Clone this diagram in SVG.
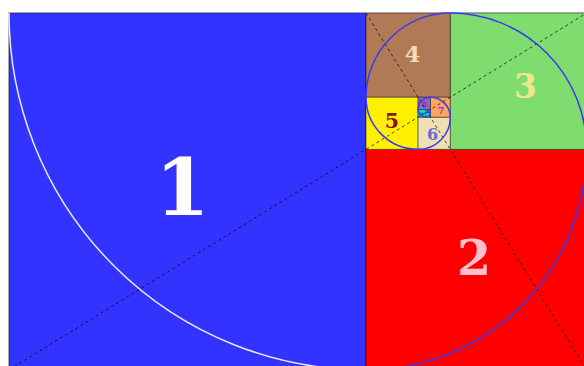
<svg xmlns="http://www.w3.org/2000/svg" width="584" height="366" viewBox="0 0 584 366">
<style>
.sq{stroke:#000;stroke-opacity:0.45;stroke-width:1}
.lbl{font-family:"DejaVu Serif","Liberation Serif",serif;font-weight:bold;text-anchor:middle}
.sp{fill:none;stroke:#3a3af0;stroke-width:1.5}
.dg{fill:none;stroke:#000;stroke-opacity:0.7;stroke-width:1;stroke-dasharray:3,3}
</style>
<rect x="0" y="0" width="584" height="366" fill="#fff"/>
<g id="sq1"><rect class="sq" x="9" y="13" width="357" height="357" fill="#3333ff"/><text class="lbl" x="182.5" y="215" font-size="78" fill="#ffffff">1</text></g>
<g id="sq2"><rect class="sq" x="366" y="149.36" width="220.64" height="220.64" fill="#ff0000"/><text class="lbl" x="474" y="275" font-size="49" fill="#ffc0cb">2</text></g>
<g id="sq3"><rect class="sq" x="450.28" y="13" width="136.36" height="136.36" fill="#7fdc6f"/><text class="lbl" x="525.5" y="98" font-size="33" fill="#f0e68c">3</text></g>
<g id="sq4"><rect class="sq" x="366" y="13" width="84.28" height="84.28" fill="#b07a56"/><text class="lbl" x="412.5" y="61.5" font-size="22.5" fill="#f5deb3">4</text></g>
<g id="sq5"><rect class="sq" x="366" y="97.28" width="52.08" height="52.08" fill="#fff000"/><text class="lbl" x="392" y="128" font-size="20.5" fill="#8b1010">5</text></g>
<g id="sq6"><rect class="sq" x="418.08" y="117.16" width="32.2" height="32.2" fill="#eee0b2"/><text class="lbl" x="432.5" y="140" font-size="16" fill="#6a6ad0">6</text></g>
<g id="sq7"><rect class="sq" x="430.4" y="97.28" width="19.88" height="19.88" fill="#ffa55a"/><text class="lbl" x="441" y="114" font-size="10" fill="#9932cc">7</text></g>
<g id="sq8"><rect class="sq" x="418.08" y="97.28" width="12.32" height="12.32" fill="#9a60c4"/><text class="lbl" x="424.2" y="107" font-size="8" fill="#6a4a8a">8</text></g>
<g id="sq9"><rect class="sq" x="418.08" y="109.6" width="7.56" height="7.56" fill="#00e0e8"/><text class="lbl" x="421.9" y="115.5" font-size="5" fill="#3050a0">9</text></g>
<g id="sq10"><rect class="sq" x="425.64" y="112.4" width="4.76" height="4.76" fill="#20c8d8"/></g>
<g id="sq11"><rect class="sq" x="427.6" y="109.6" width="2.8" height="2.8" fill="#40b0e0"/></g>
<rect x="8.5" y="12.5" width="580" height="360" fill="none" stroke="#aaa" stroke-width="1"/>
<g id="connectors">
<line class="dg" x1="9" y1="370" x2="586.64" y2="13"/>
<line class="dg" x1="366" y1="13" x2="586.64" y2="370"/>
<path d="M9,13 A357,357 0 0 0 366,370" fill="none" stroke="#ffffff" stroke-width="1.5" stroke-opacity="0.9"/>
<path class="sp" d="M366,370 A220.64,220.64 0 0 0 586.64,149.36 A136.36,136.36 0 0 0 450.28,13 A84.28,84.28 0 0 0 366,97.28 A52.08,52.08 0 0 0 418.08,149.36 A32.2,32.2 0 0 0 450.28,117.16 A19.88,19.88 0 0 0 430.4,97.28 A12.32,12.32 0 0 0 418.08,109.6 A7.56,7.56 0 0 0 425.64,117.16 A4.76,4.76 0 0 0 430.4,112.4 A2.8,2.8 0 0 0 427.6,109.6"/>
</g>
</svg>
